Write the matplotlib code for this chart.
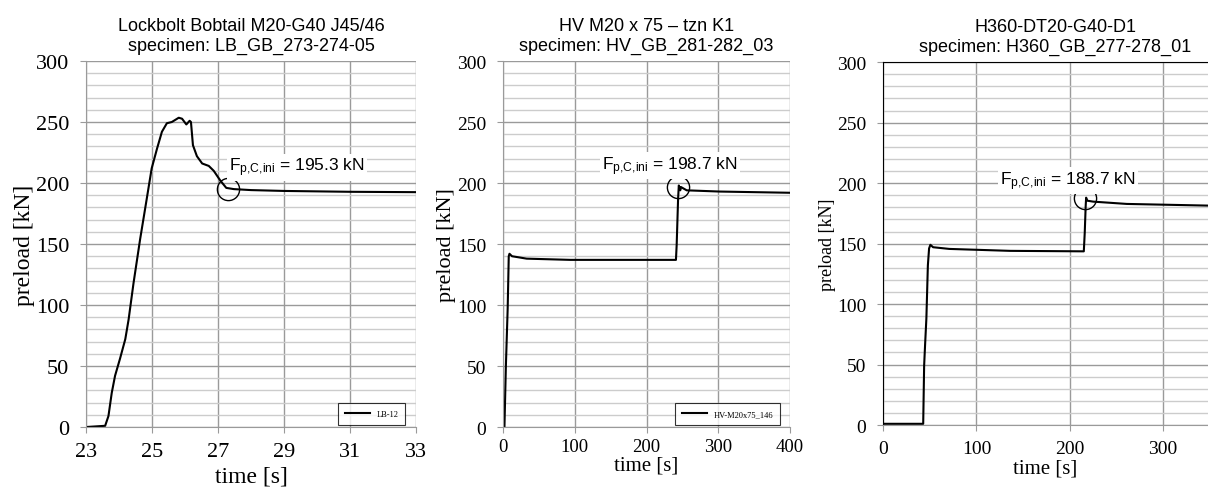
import numpy as np
import matplotlib.pyplot as plt

plt.rcParams['font.family'] = 'Liberation Serif'
plt.rcParams['mathtext.fontset'] = 'custom'
plt.rcParams['mathtext.rm'] = 'Liberation Sans'
plt.rcParams['mathtext.it'] = 'Liberation Sans'

# panel 1: Lockbolt, time [s] vs preload [kN]
lb_time = [23.0, 23.58, 23.68, 23.78, 23.88, 24.03, 24.19, 24.29, 24.44, 24.64,
           24.84, 24.99, 25.15, 25.30, 25.45, 25.60, 25.81, 25.91, 26.04, 26.14,
           26.18, 26.24, 26.36, 26.52, 26.72, 26.87, 27.07, 27.25, 27.48, 28.0,
           29.0, 31.0, 33.0]
lb_load = [0, 1, 9, 28, 42, 56, 72, 88, 118, 154,
           187, 212, 228, 242, 249, 250, 253.5, 252.7, 248, 251,
           250, 231, 222, 216, 214, 210, 202, 196, 195, 194.2,
           193.5, 192.8, 192.5]

# panel 2: HV bolt
hv_time = [0, 2, 4, 6.5, 8, 9, 12.5, 33, 94, 163, 241, 242, 244, 245, 247, 248,
           256, 302, 400]
hv_load = [0, 0, 50, 97, 140, 142, 140, 138, 137, 137, 137, 149, 187, 198, 194,
           196.7, 194, 193, 192]

# panel 3: H360
h3_time = [0, 43, 44, 45, 46.4, 48, 49.3, 50.7, 53.6, 71, 136, 215, 216, 217,
           217.5, 218.6, 225, 261, 349, 400]
h3_load = [1, 1, 49, 66, 88, 132, 146, 149, 147, 145.6, 144, 143.6, 159, 181,
           188, 185.5, 184.7, 182.8, 181.4, 181]

titles = ["Lockbolt Bobtail M20-G40 J45/46\nspecimen: LB_GB_273-274-05",
          "HV M20 x 75 \u2013 tzn K1\nspecimen: HV_GB_281-282_03",
          "H360-DT20-G40-D1\nspecimen: H360_GB_277-278_01"]
legend_labels = ["LB-12", "HV-M20x75_146", None]
f_ini = [195.3, 198.7, 188.7]
circle_pts = [(27.3, 195.3), (244, 197), (216.4, 187.7)]
text_pts = [(29.4, 213), (233, 214.5), (198, 202)]

fig = plt.figure(figsize=(12.08, 4.89), dpi=100)
positions = [[0.0712, 0.1247, 0.2732, 0.7485],
             [0.4164, 0.1247, 0.2376, 0.7485],
             [0.7310, 0.1288, 0.2690, 0.7420]]
xlims = [(23, 33), (0, 400), (0, 348)]
xticks = [np.arange(23, 34, 2), np.arange(0, 401, 100), np.arange(0, 301, 100)]
data = [(lb_time, lb_load), (hv_time, hv_load), (h3_time, h3_load)]
tick_fs = [16, 14, 14]
xtick_fs = [16, 13.5, 14]
xtick_pad = [7, 4, 7]
label_fs = [17, 16, 13]
xlabel_fs = [17, 15, 15]
xlabel_pad = [3, 0.5, 1]
title_x = [0.5, 0.5, 0.53]

for i in range(3):
    ax = fig.add_axes(positions[i])
    t, f = data[i]
    ax.plot(t, f, color='black', lw=1.5, label=legend_labels[i])
    ax.set_xlim(*xlims[i])
    ax.set_ylim(0, 300)
    ax.set_xticks(xticks[i])
    ax.set_yticks(np.arange(0, 301, 50))
    ax.set_yticks(np.arange(0, 301, 10), minor=True)
    ax.grid(which='major', color='#9a9a9a', lw=1.0)
    ax.grid(which='minor', axis='y', color='#cccccc', lw=1.0)
    ax.set_axisbelow(True)
    ax.tick_params(axis='x', which='major', labelsize=xtick_fs[i], color='#9a9a9a',
                   length=4, pad=xtick_pad[i])
    ax.tick_params(axis='y', which='major', labelsize=tick_fs[i], color='#9a9a9a',
                   length=4, pad=8)
    ax.tick_params(axis='y', which='minor', length=0)
    for s in ['top', 'right']:
        ax.spines[s].set_visible(False)
    ax.spines['bottom'].set_color('#9a9a9a')
    ax.spines['left'].set_color('#9a9a9a')
    if i == 2:
        ax.spines['top'].set_visible(True)
        ax.spines['top'].set_color('black')
        ax.spines['left'].set_color('black')
    ax.set_ylabel('preload [kN]', fontsize=label_fs[i], labelpad=1)
    ax.set_xlabel('time [s]', fontsize=xlabel_fs[i], labelpad=xlabel_pad[i])
    ax.set_title(titles[i], fontsize=13, family='Liberation Sans', pad=8,
                 linespacing=1.2, x=title_x[i])
    cx, cy = circle_pts[i]
    ax.plot([cx], [cy], 'o', ms=16, mfc='none', mec='black', mew=1.0)
    tx, ty = text_pts[i]
    ax.text(tx, ty, r'$\mathregular{F_{p{,}C{,}ini}}$ = %.1f kN' % f_ini[i],
            family='Liberation Sans', fontsize=12.5, ha='center', va='center',
            bbox=dict(facecolor='white', edgecolor='none', pad=1.5))
    if legend_labels[i] is not None:
        leg = ax.legend(loc='lower right', fontsize=6, frameon=True, fancybox=False,
                        handlelength=3, borderpad=0.8, bbox_to_anchor=(0.98, -0.005))
        leg.get_frame().set_edgecolor('black')
        leg.get_frame().set_linewidth(0.8)

fig.savefig('out.png', dpi=100)
